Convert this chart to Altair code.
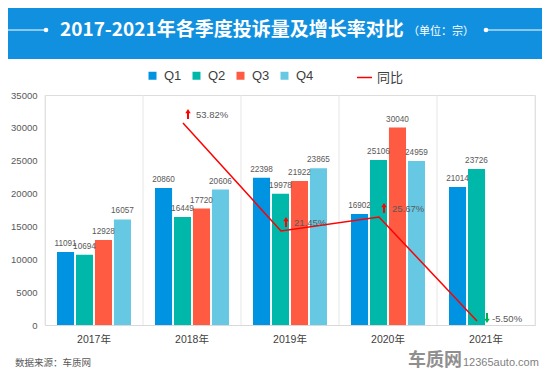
import altair as alt
import pandas as pd

years = ["2017年", "2018年", "2019年", "2020年", "2021年"]
quarters = ["Q1", "Q2", "Q3", "Q4"]
q1 = [11091, 20860, 22398, 16902, 21014]
q2 = [10694, 16449, 19978, 25106, 23726]
q3 = [12928, 17720, 21922, 30040, None]
q4 = [16057, 20606, 23865, 24959, None]
yoy_years = ["2018年", "2019年", "2020年", "2021年"]
yoy = [53.82, 21.45, 25.67, -5.50]
yoy_labels = ["53.82%", "21.45%", "25.67%", "-5.50%"]
y_ticks = [0, 5000, 10000, 15000, 20000, 25000, 30000, 35000]
colors = ["#0093E2", "#00B8A9", "#FF5A42", "#66C8E3"]

rows = []
for q, vals in zip(quarters, [q1, q2, q3, q4]):
    for y, v in zip(years, vals):
        if v is not None:
            rows.append({"year": y, "quarter": q, "value": v})
bar_df = pd.DataFrame(rows)
yoy_df = pd.DataFrame({"year": yoy_years, "pct": yoy, "label": yoy_labels, "series": ["同比"] * 4})
year_df = pd.DataFrame({"year": years})
one = pd.DataFrame({"a": [0]})

NUM_FONT = "Liberation Sans Narrow, Liberation Sans, sans-serif"
CJK = "Noto Sans CJK SC"
ARROW = "M-0.2,1L0.2,1L0.2,-0.15L0.55,-0.15L0,-1L-0.55,-0.15L-0.2,-0.15Z"

x_scale = alt.Scale(domain=years, paddingInner=0.245, paddingOuter=0.1225)
xoff_scale = alt.Scale(domain=quarters, paddingInner=0.1, paddingOuter=0)
y_scale = alt.Scale(domain=[0, 35000], nice=False)
p_scale = alt.Scale(domain=[-6.7, 62.2], nice=False, zero=False)

x_axis = alt.Axis(title=None, labelAngle=0, ticks=False, domainColor="#d9d9d9",
                  labelFont="Liberation Sans, " + CJK, labelFontSize=10.5, labelColor="#404040",
                  labelPadding=9)
y_axis = alt.Axis(title=None, values=y_ticks, format="d", labelOverlap=False, grid=False,
                  ticks=False, domain=False, labelPadding=8, labelFont=NUM_FONT,
                  labelFontSize=9.5, labelColor="#595959")
X = alt.X("year:N", scale=x_scale, sort=years, axis=x_axis)
XO = alt.XOffset("quarter:N", scale=xoff_scale, sort=quarters)
Y = alt.Y("value:Q", scale=y_scale, axis=y_axis)

grid = alt.Chart(year_df).mark_rule(xOffset=-49, color="#e6e6e6", strokeWidth=1).encode(
    x=X, y=alt.value(0), y2=alt.value(230))
grid_end = alt.Chart(one).mark_rule(color="#e6e6e6", strokeWidth=1).encode(
    x=alt.value(490), y=alt.value(0), y2=alt.value(230))

bars = alt.Chart(bar_df).mark_bar().encode(
    x=X, xOffset=XO, y=Y,
    color=alt.Color("quarter:N", scale=alt.Scale(domain=quarters, range=colors),
                    legend=alt.Legend(title=None, orient="none", legendX=101, legendY=-26,
                                      direction="horizontal", symbolType="square", symbolSize=64,
                                      symbolStrokeWidth=0, labelFont="Liberation Sans", labelFontSize=13,
                                      labelColor="#404040", labelOffset=5, columnPadding=8, padding=0)))
bar_labels = alt.Chart(bar_df).mark_text(dy=-8, font=NUM_FONT, fontSize=8.2, color="#595959").encode(
    x=X, xOffset=XO, y=Y, text="value:Q")

bar_layer = alt.layer(bars, grid, grid_end, bar_labels)

PY = alt.Y("pct:Q", scale=p_scale, axis=None)
line = alt.Chart(yoy_df).mark_line(xOffset=-9, strokeWidth=1.5).encode(
    x=X, y=PY,
    stroke=alt.Stroke("series:N", scale=alt.Scale(domain=["同比"], range=["#ff0000"]),
                      legend=alt.Legend(title=None, orient="none", legendX=311, legendY=-26,
                                        symbolType="stroke", symbolSize=225, symbolStrokeWidth=1.5,
                                        labelFont=CJK, labelFontSize=13, labelColor="#404040",
                                        labelOffset=4, padding=0)))
up = alt.Chart(yoy_df).transform_filter("datum.pct >= 0").mark_point(
    shape=ARROW, filled=True, size=100, fill="#ff0000", strokeWidth=0, opacity=1, xOffset=-4, yOffset=-9
).encode(x=X, y=PY)
down = alt.Chart(yoy_df).transform_filter("datum.pct < 0").mark_point(
    shape=ARROW, filled=True, size=100, angle=180, fill="#00b050", strokeWidth=0, opacity=1,
    xOffset=1, yOffset=-3
).encode(x=X, y=PY)
up_lab = alt.Chart(yoy_df).transform_filter("datum.pct >= 0").mark_text(
    align="left", xOffset=4, yOffset=-8, font=NUM_FONT, fontSize=9.5, color="#595959"
).encode(x=X, y=PY, text="label:N")
down_lab = alt.Chart(yoy_df).transform_filter("datum.pct < 0").mark_text(
    align="left", xOffset=6, yOffset=-2, font=NUM_FONT, fontSize=9.5, color="#595959"
).encode(x=X, y=PY, text="label:N")
line_layer = alt.layer(line, up, down, up_lab, down_lab)

header = alt.Chart(one).mark_rect(color="#1290E0").encode(
    x=alt.value(-37), x2=alt.value(497), y=alt.value(-87), y2=alt.value(-36))
title = alt.Chart(one).mark_text(text="2017-2021年各季度投诉量及增长率对比", align="left", baseline="middle",
                                 font=CJK, fontSize=19, fontWeight="bold", fill="white").encode(
    x=alt.value(15), y=alt.value(-65))
unit = alt.Chart(one).mark_text(text="（单位：宗）", align="left", baseline="middle",
                                font=CJK, fontSize=11, fill="white").encode(
    x=alt.value(363), y=alt.value(-63))
lline = alt.Chart(one).mark_rule(color="white", strokeWidth=1).encode(
    x=alt.value(-37), x2=alt.value(1), y=alt.value(-65))
rline = alt.Chart(one).mark_rule(color="white", strokeWidth=1).encode(
    x=alt.value(441), x2=alt.value(497), y=alt.value(-65))
ldot = alt.Chart(one).mark_circle(color="white", size=22, opacity=1).encode(x=alt.value(1), y=alt.value(-65))
rdot = alt.Chart(one).mark_circle(color="white", size=22, opacity=1).encode(x=alt.value(441), y=alt.value(-65))
source = alt.Chart(one).mark_text(text="数据来源：车质网", align="left", baseline="middle",
                                  font=CJK, fontSize=9.5, fill="#595959").encode(
    x=alt.value(-30), y=alt.value(268))
wm1 = alt.Chart(one).mark_text(text="车质网", align="center", baseline="middle", font=CJK, fontSize=18,
                               fontWeight="bold", fill="#8f8f8f").encode(
    x=alt.value(390), y=alt.value(266))
wm2 = alt.Chart(one).mark_text(text="12365auto.com", align="left", baseline="middle",
                               font="Liberation Sans", fontSize=11, fill="#7f7f7f").encode(
    x=alt.value(418), y=alt.value(268))

chart = alt.layer(bar_layer, line_layer, header, title, unit, lline, rline, ldot, rdot, source, wm1, wm2
).resolve_scale(y="independent").properties(
    width=490, height=230, autosize="none",
    padding={"left": 37, "top": 87, "right": 7, "bottom": 47}
).configure_view(stroke=None).configure(background="white")

chart.save("out.html", embed_options={"renderer": "svg", "actions": False})
